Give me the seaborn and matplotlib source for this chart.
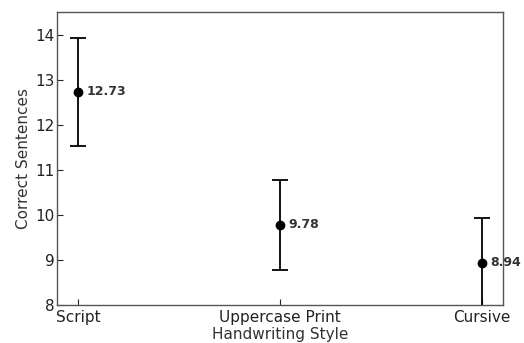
import numpy as np
import pandas as pd
import seaborn as sns
import matplotlib
matplotlib.use('Agg')
import matplotlib.pyplot as plt

# Values
styles = ['Script', 'Uppercase Print', 'Cursive']
means = [12.73, 9.78, 8.94]
errors = [1.2, 1.0, 1.0]


def main():
    sns.set_style('white')
    plt.rcParams['font.family'] = ['DejaVu Sans']
    df = pd.DataFrame({'style': styles, 'mean': means, 'err': errors})

    fig, ax = plt.subplots(figsize=(5.24, 3.43), dpi=100)
    ax.errorbar(np.arange(len(styles)), df['mean'], yerr=df['err'], fmt='none',
                ecolor='black', elinewidth=1.3, capsize=6, capthick=1.3, zorder=2)
    sns.pointplot(data=df, x='style', y='mean', order=styles, linestyle='none',
                  color='black', markersize=5, errorbar=None, ax=ax, zorder=3)

    for i, row in df.iterrows():
        ax.annotate(f"{row['mean']:.2f}", (i, row['mean']), xytext=(6, 0),
                    textcoords='offset points', va='center', ha='left',
                    fontsize=9, fontweight='bold', color='#333333')

    ax.set_xlim(-0.105, 2.105)
    ax.set_ylim(8, 14.5)
    ax.set_xlabel('Handwriting Style', fontsize=11, color='#333333', labelpad=1)
    ax.set_ylabel('Correct Sentences', fontsize=11, color='#333333', labelpad=3)
    ax.tick_params(direction='in', labelsize=11, labelcolor='#222222', length=4,
                   bottom=True, left=True)
    ax.tick_params(axis='y', pad=2)
    ax.tick_params(axis='x', pad=3.5)
    for s in ax.spines.values():
        s.set_color('#555555')
        s.set_linewidth(1.0)

    fig.subplots_adjust(left=0.109, right=0.96, top=0.965, bottom=0.11)
    fig.savefig('out.png', dpi=100)


if __name__ == '__main__':
    main()
